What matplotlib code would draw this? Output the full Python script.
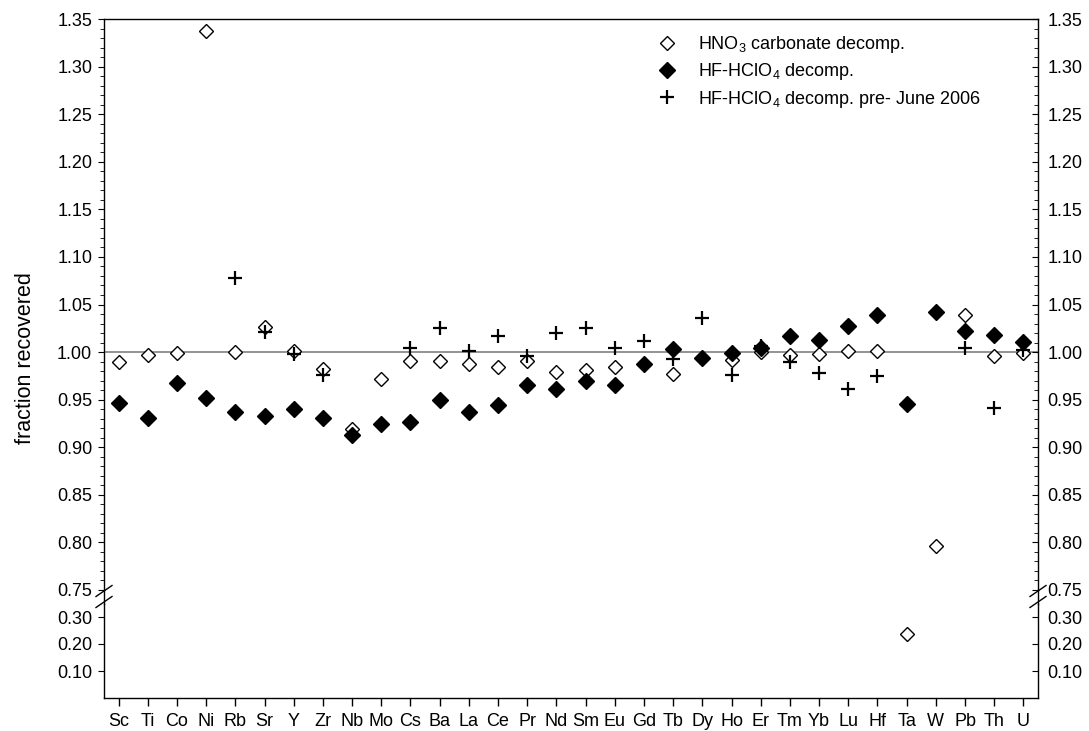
import numpy as np
import matplotlib.pyplot as plt
from matplotlib.lines import Line2D
from matplotlib.ticker import MultipleLocator, FormatStrFormatter

plt.rcParams['font.family'] = ['Liberation Sans', 'DejaVu Sans']
plt.rcParams['mathtext.fontset'] = 'custom'
plt.rcParams['mathtext.rm'] = 'Liberation Sans'
plt.rcParams['mathtext.it'] = 'Liberation Sans:italic'
plt.rcParams['mathtext.bf'] = 'Liberation Sans:bold'

elements = ['Sc', 'Ti', 'Co', 'Ni', 'Rb', 'Sr', 'Y', 'Zr', 'Nb', 'Mo', 'Cs', 'Ba',
            'La', 'Ce', 'Pr', 'Nd', 'Sm', 'Eu', 'Gd', 'Tb', 'Dy', 'Ho', 'Er', 'Tm',
            'Yb', 'Lu', 'Hf', 'Ta', 'W', 'Pb', 'Th', 'U']

nan = np.nan
hno3_carbonate = [0.990, 0.997, 0.999, 1.337, 1.000, 1.026, 1.001, 0.982, 0.919, 0.972,
                  0.991, 0.991, 0.987, 0.984, 0.991, 0.979, 0.981, 0.984, nan, 0.977,
                  nan, 0.992, 1.000, 0.997, 0.998, 1.001, 1.001, 0.236, 0.796, 1.039,
                  0.996, 0.999]
hf_hclo4 = [0.946, 0.931, 0.967, 0.952, 0.937, 0.933, 0.940, 0.931, 0.913, 0.924,
            0.927, 0.950, 0.937, 0.944, 0.965, 0.961, 0.970, 0.965, 0.988, 1.003,
            0.994, 0.999, 1.004, 1.017, 1.013, 1.027, 1.039, 0.945, 1.042, 1.022,
            1.018, 1.011]
hf_hclo4_pre2006 = [nan, nan, nan, nan, 1.078, 1.021, 0.998, 0.976, nan, nan,
                    1.004, 1.025, 1.001, 1.017, 0.996, 1.020, 1.025, 1.004, 1.012, 0.993,
                    1.036, 0.976, 1.006, 0.990, 0.978, 0.961, 0.975, nan, nan, 1.004,
                    0.941, 1.002]

x = np.arange(len(elements))
W, H = 1089, 731

fig = plt.figure(figsize=(W / 100, H / 100), dpi=100)
left, right = 104 / W, 1038 / W
ax_top = fig.add_axes([left, 1 - 590 / H, right - left, (590 - 19) / H])
ax_bot = fig.add_axes([left, 1 - 698 / H, right - left, (698 - 603.5) / H], sharex=ax_top)


def draw_series(ax):
    ax.plot(x, hno3_carbonate, linestyle='none', marker='D', ms=7.6, mfc='white',
            mec='black', mew=1.0, label=r'HNO$_3$ carbonate decomp.', zorder=3)
    ax.plot(x, hf_hclo4, linestyle='none', marker='D', ms=8.6, mfc='black',
            mec='black', mew=1.0, label=r'HF-HClO$_4$ decomp.', zorder=4)
    ax.plot(x, hf_hclo4_pre2006, linestyle='none', marker='+', ms=10.5, mec='black',
            mew=1.6, label=r'HF-HClO$_4$ decomp. pre- June 2006', zorder=5)


for ax in (ax_top, ax_bot):
    draw_series(ax)
    ax.set_xlim(-0.5, len(elements) - 0.5)
    ax.tick_params(axis='y', which='both', direction='out', labelsize=13, pad=4)
    ax.tick_params(axis='y', which='major', length=4.5)
    ax.tick_params(axis='y', which='minor', length=3)
    ax.yaxis.set_major_formatter(FormatStrFormatter('%.2f'))
    for s in ax.spines.values():
        s.set_linewidth(1.0)

ax_top.axhline(1.0, color='#808080', lw=1.2, zorder=2)

ax_top.set_ylim(0.75, 1.35)
ax_top.yaxis.set_major_locator(MultipleLocator(0.05))
ax_top.yaxis.set_minor_locator(MultipleLocator(0.01))
ax_top.spines['bottom'].set_visible(False)
ax_top.tick_params(axis='x', which='both', bottom=False, top=False, labelbottom=False)

ax_bot.set_ylim(0.0, 0.35)
ax_bot.set_yticks([0.10, 0.20, 0.30])
ax_bot.spines['top'].set_visible(False)
ax_bot.set_xticks(x)
ax_bot.set_xticklabels(elements, fontsize=13)
ax_bot.tick_params(axis='x', direction='out', length=6, width=1.0, pad=5, top=False)

# right-hand axes with inward ticks
for ax, ylim in ((ax_top, (0.75, 1.35)), (ax_bot, (0.0, 0.35))):
    rax = ax.twinx()
    rax.set_ylim(*ylim)
    if ax is ax_top:
        rax.yaxis.set_major_locator(MultipleLocator(0.05))
        rax.yaxis.set_minor_locator(MultipleLocator(0.01))
    else:
        rax.set_yticks([0.10, 0.20, 0.30])
    rax.yaxis.set_major_formatter(FormatStrFormatter('%.2f'))
    rax.tick_params(axis='y', which='both', direction='in', labelsize=13, pad=7)
    rax.tick_params(axis='y', which='major', length=4.5)
    rax.tick_params(axis='y', which='minor', length=3)
    for s in rax.spines.values():
        s.set_visible(False)

# spine bridge and diagonal break marks
y_gap_top = 1 - 590 / H
y_gap_bot = 1 - 603.5 / H
for xs in (left, right):
    fig.add_artist(Line2D([xs, xs], [y_gap_bot, y_gap_top], color='black', lw=1.0,
                          transform=fig.transFigure))
    for yc in (591, 602):
        fig.add_artist(Line2D([xs - 8 / W, xs + 8 / W],
                              [1 - (yc + 5.5) / H, 1 - (yc - 5.5) / H],
                              color='black', lw=1.0, transform=fig.transFigure))

fig.text(26 / W, 1 - 358 / H, 'fraction recovered', rotation=90, fontsize=15.5,
         ha='center', va='center')

ax_top.legend(loc='upper left', bbox_to_anchor=(658 / W, 1 - 34 / H),
              bbox_transform=fig.transFigure, frameon=False, fontsize=13,
              handlelength=1.0, handletextpad=1.2, labelspacing=0.35,
              borderpad=0, borderaxespad=0, numpoints=1)

fig.savefig('out.png', dpi=100)
